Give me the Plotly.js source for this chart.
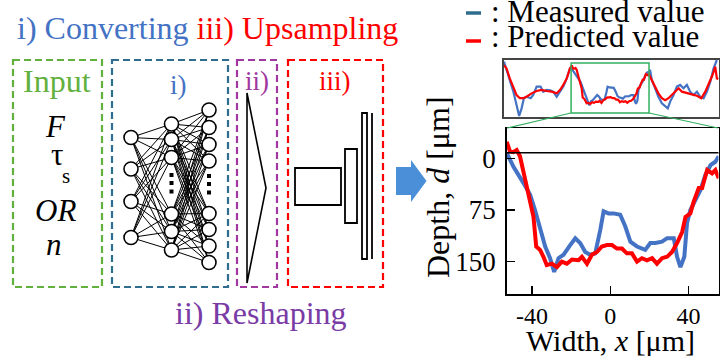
<!DOCTYPE html>
<html><head><meta charset="utf-8">
<script src="https://cdn.plot.ly/plotly-3.0.1.min.js"></script>
<style>html,body{margin:0;padding:0;background:#fff}#chart{width:720px;height:356px}</style>
</head><body><div id="chart"></div>
<script>
// ---------- data: main (zoomed) profile ----------
const mainXMeas = [-53,-49.6,-44.4,-41,-38.5,-35.9,-33.3,-30.8,-28.7,-26.5,-23.9,-20.5,-17.9,-15.4,-12.8,-10.3,-7.7,-5.1,-3.4,-0.9,1.7,5.1,7.7,10.3,13.7,17.9,20.5,23.1,26.5,29.1,32.5,34.2,35.9,37.9,39.3,41,43.6,46.2,48.7,51.3,53.8,55.5];
const mainDMeas = [-8,12,36,53,75,104,128,145,165,145,140,126,116,123,136,140,138,104,77,80,80,82,99,121,128,133,123,123,121,116,116,143,158,143,94,75,60,46,24,10,5,-3];
const mainXPred = [-53,-51.3,-49.6,-47.9,-46.2,-43.6,-41,-39.3,-37.9,-35.9,-34.2,-32.5,-29.9,-27.3,-24.8,-22.2,-19.6,-16.2,-14.5,-11.9,-9.4,-6.8,-4.3,-1.7,0.9,3.4,6,8.5,11.1,13.7,16.2,18.8,21.4,23.9,26.5,29.1,31.6,34.2,36.8,38.5,41,42.7,45.3,47,49.6,52.1,53.8,55.5];
const mainDPred = [-24,-10,-9,-12,-3,31,63,85,128,133,143,155,153,158,150,153,147,148,143,153,140,136,128,126,126,131,131,138,138,150,145,148,145,153,145,143,136,123,107,85,80,63,43,43,17,22,17,29];

// ---------- data: inset (wide) profile, outer segments ----------
const insetLeftXMeas = [-147,-143.5,-139,-134,-129.6,-126,-122.6,-119.4,-115.7,-110,-106.5,-101.8,-96.3,-92.6,-88,-83,-78.7,-74,-69.4,-64.8,-60,-55.6];
const insetLeftDMeas = [-42,-3,37,100,163,215,179,131,124,131,116,76,76,100,92,94,100,124,100,76,37,-10];
const insetRightXMeas = [57.9,62.5,67,71.8,76.4,80,83.3,88,92.6,97.2,101.8,106.5,111,115.7,120.4,125,129.6,134.3,139,143.5,148];
const insetRightDMeas = [45,84,124,155,171,179,147,116,76,68,84,68,100,116,100,124,131,100,53,-10,-50];
const insetLeftXPred = [-147,-143.5,-139,-134,-129.6,-125,-120.4,-115.7,-108.8,-101.8,-94.9,-88,-81,-74,-69.4,-64.8,-60,-55.6];
const insetLeftDPred = [-26,-10,37,76,116,131,131,124,108,97,92,97,100,108,92,68,37,-10];
const insetRightXPred = [58,62.5,67,71.8,76.4,81,85.6,90.3,95,99.6,106.5,113.4,120.4,126.4,132,137.5,142,145.8,148,150];
const insetRightDPred = [45,76,108,131,140,131,116,100,84,100,108,113,119,131,100,61,21,-18,37,40];

// ---------- tick labels ----------
const xTickVals = [-40,0,40];
const xTickText = ['-40','0','40'];
const yTickVals = [0,75,150];
const yTickText = ['0','75','150'];

// ---------- diagram (network) nodes, in page pixels ----------
const nnLayerX = [131,171.5,209];
const nnLayer1Y = [137.5,169,201.5,237.5];
const nnLayer2Y = [124,139.5,157.5,214,231.5,250];
const nnLayer3Y = [110,127.5,144.5,161,213.5,229.5,246,262.5];
const dotsY2 = [175,183,191.5];
const dotsY3 = [176,184,192.5];

const W = 720, H = 356;
const FONT = 'Liberation Serif, Times New Roman, serif';
const BLUE = '#4472C4', RED = '#FF0000', TEAL = '#2E6D8E', GREEN = '#62B03E', PURPLE = '#A0389F', PURPLE_T = '#7A3BA5';
const px = x => x / W, py = y => 1 - y / H;

// connections
const conX = [], conY = [];
function connect(xa, ya, xb, yb) {
  ya.forEach(a => yb.forEach(b => { conX.push(xa, xb, null); conY.push(a, b, null); }));
}
connect(nnLayerX[0], nnLayer1Y, nnLayerX[1], nnLayer2Y);
connect(nnLayerX[1], nnLayer2Y, nnLayerX[2], nnLayer3Y);
const nodeX = [], nodeY = [];
[nnLayer1Y, nnLayer2Y, nnLayer3Y].forEach((ys, i) => ys.forEach(y => { nodeX.push(nnLayerX[i]); nodeY.push(y); }));
const dotX = dotsY2.map(() => nnLayerX[1]).concat(dotsY3.map(() => nnLayerX[2]));
const dotY = dotsY2.concat(dotsY3);

const insetXMeas = insetLeftXMeas.concat(mainXMeas, insetRightXMeas);
const insetDMeas = insetLeftDMeas.concat(mainDMeas, insetRightDMeas);
const insetXPred = insetLeftXPred.concat(mainXPred, insetRightXPred);
const insetDPred = insetLeftDPred.concat(mainDPred, insetRightDPred);

const traces = [
  {x: mainXMeas, y: mainDMeas, xaxis: 'x', yaxis: 'y', mode: 'lines', line: {color: BLUE, width: 4}, name: 'Measured value', showlegend: false, hoverinfo: 'skip'},
  {x: mainXPred, y: mainDPred, xaxis: 'x', yaxis: 'y', mode: 'lines', line: {color: RED, width: 4}, name: 'Predicted value', showlegend: false, hoverinfo: 'skip'},
  {x: insetXMeas, y: insetDMeas, xaxis: 'x2', yaxis: 'y2', mode: 'lines', line: {color: BLUE, width: 2.2}, showlegend: false, hoverinfo: 'skip'},
  {x: insetXPred, y: insetDPred, xaxis: 'x2', yaxis: 'y2', mode: 'lines', line: {color: RED, width: 2.2}, showlegend: false, hoverinfo: 'skip'},
  {x: conX, y: conY, xaxis: 'x3', yaxis: 'y3', mode: 'lines', line: {color: '#000', width: 1}, showlegend: false, hoverinfo: 'skip'},
  {x: nodeX, y: nodeY, xaxis: 'x3', yaxis: 'y3', mode: 'markers', marker: {size: 14, color: '#fff', line: {color: '#000', width: 1.6}}, showlegend: false, hoverinfo: 'skip'},
  {x: dotX, y: dotY, xaxis: 'x3', yaxis: 'y3', mode: 'markers', marker: {symbol: 'square', size: 4, color: '#000'}, showlegend: false, hoverinfo: 'skip'}
];

function dashedBox(x0, y0, x1, y1, color) {
  return {type: 'rect', xref: 'x3', yref: 'y3', x0, y0, x1, y1, line: {color, width: 2.2, dash: '7px,4px'}, fillcolor: 'rgba(0,0,0,0)'};
}
function rect(x0, y0, x1, y1) {
  return {type: 'rect', xref: 'x3', yref: 'y3', x0, y0, x1, y1, line: {color: '#000', width: 1.8}, fillcolor: 'rgba(0,0,0,0)'};
}
function seg(x0, y0, x1, y1, color, width) {
  return {type: 'line', xref: 'x3', yref: 'y3', x0, y0, x1, y1, line: {color, width}};
}

const shapes = [
  dashedBox(13, 60, 102, 287, GREEN),
  dashedBox(112, 60, 228, 287, TEAL),
  dashedBox(237, 60, 277, 287, PURPLE),
  dashedBox(288, 60, 383, 287, RED),
  {type: 'path', xref: 'x3', yref: 'y3', path: 'M247,93 L266,188 L247,283 Z', line: {color: '#000', width: 1.6}},
  rect(295, 168, 341, 205),
  rect(345, 149, 357, 223),
  rect(362, 113, 367, 259),
  seg(372, 113, 372, 259, '#000', 1.8),
  {type: 'path', xref: 'x3', yref: 'y3', path: 'M396,167 L411,167 L411,160 L426.5,181 L411,202 L411,195 L396,195 Z', fillcolor: '#4A8FD8', line: {width: 0}},
  // legend dashes
  seg(466, 13, 481, 13, TEAL, 3.5),
  seg(466, 41, 481, 41, RED, 3.5),
  // zoom connectors
  seg(571, 113, 507, 128, '#33B060', 1.2),
  seg(649, 113, 718, 128, '#33B060', 1.2),
  // green zoom rect in the inset
  {type: 'rect', xref: 'x2', yref: 'y2', x0: -54, x1: 54, y0: -36, y1: 201, line: {color: '#33B060', width: 1.5}},
  // surface reference line in the main chart
  {type: 'line', xref: 'x domain', yref: 'y', x0: 0, x1: 1, y0: -8, y1: -8, line: {color: '#000', width: 1.5}}
];

function ann(text, x, y, size, color, opts) {
  return Object.assign({text, x: px(x), y: py(y), xref: 'paper', yref: 'paper', showarrow: false,
    xanchor: 'center', yanchor: 'middle', font: {family: FONT, size, color}}, opts || {});
}

const annotations = [
  ann('<span style="color:' + BLUE + '">i) Converting</span> <span style="color:' + RED + '">iii) Upsampling</span>', 208, 28, 32, BLUE),
  ann(': Measured value', 489, 11, 31, '#000', {xanchor: 'left'}),
  ann(': Predicted value', 489, 37, 31, '#000', {xanchor: 'left'}),
  ann('Input', 57, 80.5, 32, GREEN),
  ann('<i>F</i>', 55, 126.5, 31, '#000'),
  ann('τ', 57, 154, 31, '#000'),
  ann('s', 66, 176, 21, '#000'),
  ann('<i>OR</i>', 55, 210.5, 31, '#000'),
  ann('<i>n</i>', 54, 244.5, 31, '#000'),
  ann('i)', 178, 84.5, 27, BLUE),
  ann('ii)', 257, 80.7, 27, PURPLE),
  ann('iii)', 335, 81.5, 27, RED),
  ann('ii) Reshaping', 261, 312.5, 32, PURPLE_T),
  ann('Width, <i>x</i> [μm]', 610, 340, 30, '#000'),
  ann('Depth, <i>d</i> [μm]', 438, 187, 32, '#000', {textangle: -90})
];

const layout = {
  width: W, height: H,
  margin: {l: 0, r: 0, t: 0, b: 0},
  paper_bgcolor: '#fff', plot_bgcolor: 'rgba(0,0,0,0)',
  font: {family: FONT, color: '#000'},
  showlegend: false,
  xaxis: {domain: [px(506.7), px(718.5)], range: [-53, 55.4], tickvals: xTickVals, ticktext: xTickText,
    ticks: 'inside', ticklen: 8, tickwidth: 1.5, tickcolor: '#000', showline: true, mirror: true, linecolor: '#000', linewidth: 1.5,
    showgrid: false, zeroline: false, tickfont: {family: FONT, size: 24}, ticklabelstandoff: 0, fixedrange: true},
  yaxis: {domain: [py(294), py(128)], range: [197, -44], tickvals: yTickVals, ticktext: yTickText,
    ticks: 'inside', ticklen: 8, tickwidth: 1.5, tickcolor: '#000', showline: true, mirror: true, linecolor: '#000', linewidth: 1.5,
    showgrid: false, zeroline: false, tickfont: {family: FONT, size: 27}, ticklabelstandoff: 4, fixedrange: true},
  xaxis2: {domain: [px(504), px(719)], range: [-147, 151], anchor: 'y2', showticklabels: false, ticks: '',
    showline: true, mirror: true, linecolor: '#444', linewidth: 2, showgrid: false, zeroline: false, fixedrange: true},
  yaxis2: {domain: [py(117), py(60)], range: [220, -50], anchor: 'x2', showticklabels: false, ticks: '',
    showline: true, mirror: true, linecolor: '#444', linewidth: 2, showgrid: false, zeroline: false, fixedrange: true},
  xaxis3: {domain: [0, 1], range: [0, W], anchor: 'y3', visible: false, fixedrange: true},
  yaxis3: {domain: [0, 1], range: [H, 0], anchor: 'x3', visible: false, fixedrange: true},
  shapes, annotations
};

Plotly.newPlot('chart', traces, layout, {staticPlot: true, displayModeBar: false});
</script></body></html>
